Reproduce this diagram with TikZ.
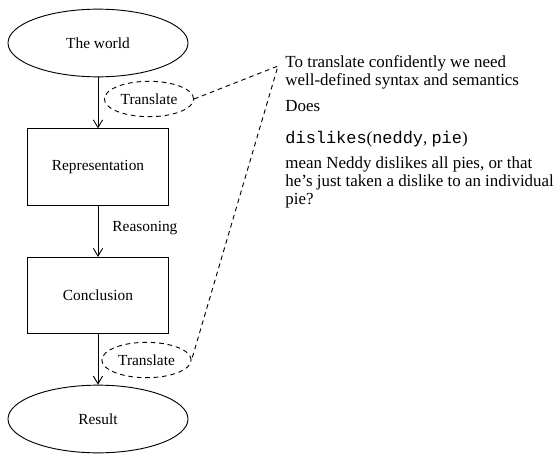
\documentclass[tikz,border=0pt]{standalone}
\usepackage{fontspec}
\setmainfont{Liberation Serif}
\setmonofont{Liberation Mono}
\usetikzlibrary{shapes.geometric,arrows.meta}

\tikzset{
    stage/.style={draw, ellipse, minimum width=117pt, minimum height=44pt, inner sep=0pt},
    stepbox/.style={draw, rectangle, minimum width=92pt, minimum height=49.5pt, inner sep=0pt},
    transl/.style={draw, ellipse, dash pattern=on 3pt off 2.5pt, minimum width=58pt, minimum height=23pt, inner sep=0pt},
    flow/.style={-{Straight Barb[length=5pt,width=6pt]}},
    link/.style={dash pattern=on 3pt off 2.5pt},
    note/.style={anchor=base west, inner sep=0pt, align=left, font=\fontsize{11}{11.7}\selectfont}
}

\begin{document}
\begin{tikzpicture}[x=0.65pt, y=-0.65pt, line width=0.6pt]
        \useasboundingbox (0,0) rectangle (559,456);

        \node[stage] (world) at (98, 43) {The world};
        \node[stepbox] (rep) at (98, 167) {Representation};
        \node[stepbox] (conc) at (98, 295.5) {Conclusion};
        \node[stage] (result) at (98, 419) {Result};

        \node[transl] (trA) at (149, 99) {Translate};
        \node[transl] (trB) at (146.5, 360) {Translate};
        \node[anchor=west, inner sep=0pt] (reason) at (112, 228) {Reasoning};

        \draw [flow] (world) -- (rep);
        \draw [flow] (rep) -- (conc);
        \draw [flow] (conc) -- (result);

        % dashed link to the remark
        \coordinate (corner) at (278, 66);
        \draw [link] (trA.east) -- (corner) -- (trB.east);

        \node[note] (need) at (285, 85) {To translate confidently we need\\well-defined syntax and semantics};
        \node[note] (does) at (285, 111) {Does};
        \node[note] (pred) at (285, 143) {\texttt{dislikes}(\texttt{neddy}, \texttt{pie})};
        \node[note] (mean) at (285, 204) {mean Neddy dislikes all pies, or that\\he's just taken a dislike to an individual\\pie?};
    \end{tikzpicture}
\end{document}
